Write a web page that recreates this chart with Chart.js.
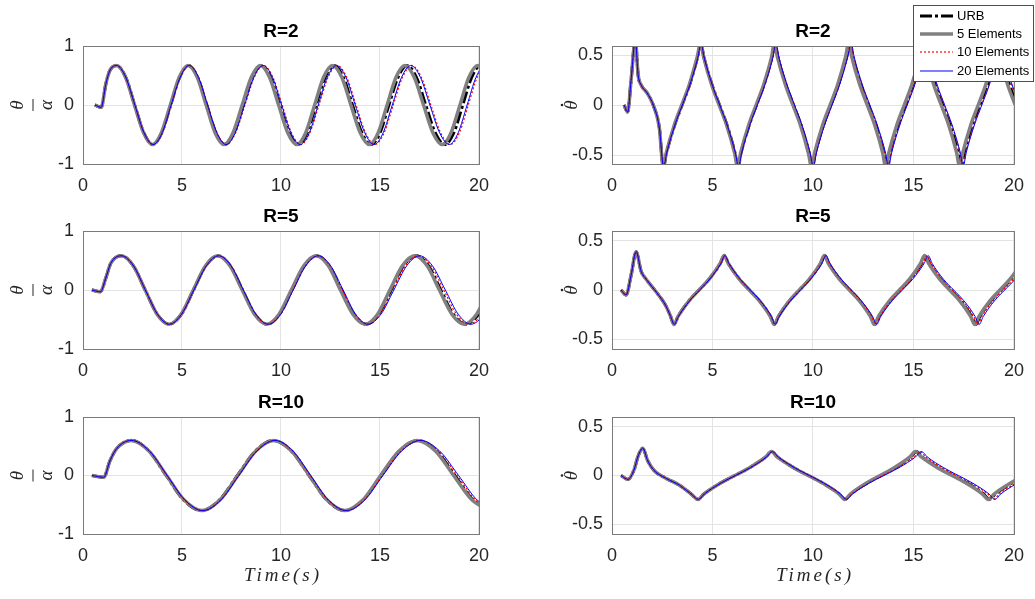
<!DOCTYPE html>
<html>
<head>
<meta charset="utf-8">
<script src="https://cdn.jsdelivr.net/npm/chart.js@4.4.1/dist/chart.umd.min.js"></script>
<style>
  body { margin: 0; background: #fff; }
  #wrap { position: relative; width: 1035px; height: 599px; overflow: hidden; background: #fff; }
  #wrap canvas { position: absolute; }
</style>
</head>
<body>
<div id="wrap"></div>
<script>
// Tick labels
const timeTicks = [0, 5, 10, 15, 20];
const angleTicks = [-1, 0, 1];
const rateTicks = [-0.5, 0, 0.5];
const seriesNames = ["URB", "5 Elements", "10 Elements", "20 Elements"];

// ---- R=2, theta/alpha ----
const startA_t = [0.6, 0.92, 1.15, 1.35, 1.7];
const startA_v = [0, -0.04, 0.35, 0.58, 0.67];
const cycleA_v = [0.47, 0, -0.47, -0.67, -0.47, 0, 0.47, 0.67, 0.47, 0, -0.47, -0.67, -0.47, 0, 0.47, 0.67,
  0.47, 0, -0.47, -0.67, -0.47, 0, 0.47, 0.67, 0.47, 0, -0.47, -0.67, -0.47, 0, 0.47, 0.67,
  0.47, 0, -0.47, -0.67, -0.47, 0, 0.47, 0.67, 0.47, 0];
const urbA = [2.16, 2.61, 3.07, 3.52, 3.98, 4.43, 4.88, 5.33, 5.79, 6.25, 6.71, 7.16, 7.62, 8.08, 8.54, 9.0,
  9.47, 9.93, 10.4, 10.86, 11.32, 11.77, 12.23, 12.68, 13.15, 13.61, 14.08, 14.55, 15.0, 15.45, 15.91, 16.36,
  16.84, 17.31, 17.79, 18.27, 18.73, 19.18, 19.63, 20.08, 20.54, 21.0];
const el5A = [2.15, 2.6, 3.06, 3.51, 3.96, 4.41, 4.86, 5.31, 5.77, 6.22, 6.67, 7.12, 7.58, 8.04, 8.5, 8.96,
  9.42, 9.88, 10.34, 10.8, 11.25, 11.7, 12.15, 12.6, 13.07, 13.53, 14.0, 14.46, 14.91, 15.36, 15.81, 16.26,
  16.73, 17.2, 17.67, 18.14, 18.59, 19.04, 19.49, 19.94, 20.42, 20.9];
const el10A = [2.16, 2.62, 3.09, 3.55, 4.01, 4.46, 4.92, 5.37, 5.84, 6.3, 6.77, 7.24, 7.71, 8.18, 8.65, 9.12,
  9.59, 10.06, 10.53, 11.0, 11.46, 11.92, 12.38, 12.84, 13.32, 13.79, 14.27, 14.74, 15.21, 15.67, 16.14, 16.6,
  17.09, 17.57, 18.06, 18.55, 19.01, 19.46, 19.91, 20.36, 20.83, 21.3];
const el20A = [2.16, 2.62, 3.08, 3.54, 4.0, 4.45, 4.91, 5.36, 5.83, 6.29, 6.76, 7.22, 7.69, 8.16, 8.63, 9.1,
  9.57, 10.03, 10.5, 10.97, 11.43, 11.88, 12.34, 12.8, 13.28, 13.75, 14.23, 14.7, 15.16, 15.62, 16.09, 16.55,
  17.04, 17.52, 18.01, 18.5, 18.95, 19.4, 19.85, 20.3, 20.78, 21.25];

// ---- R=2, theta dot ----
const startB_t = [0.6, 0.78, 0.95, 1.16, 1.3, 1.45, 1.75, 2.05, 2.35];
const startB_v = [0, -0.07, 0.25, 0.65, 0.3, 0.2, 0.12, 0, -0.22];
const cycleB_v = [-0.62, -0.48, -0.2, 0, 0.2, 0.48, 0.62, 0.48, 0.2, 0, -0.2, -0.48,
  -0.62, -0.48, -0.2, 0, 0.2, 0.48, 0.62, 0.48, 0.2, 0, -0.2, -0.48,
  -0.62, -0.48, -0.2, 0, 0.2, 0.48, 0.62, 0.48, 0.2, 0, -0.2, -0.48,
  -0.62, -0.48, -0.2, 0, 0.2, 0.48, 0.62, 0.48, 0.2, 0, -0.2, -0.48,
  -0.62, -0.48, -0.2, 0, 0.2, 0.48, 0.62, 0.48, 0.2, 0, -0.2, -0.48, -0.62];
const urbB = [2.56, 2.71, 3.12, 3.49, 3.86, 4.26, 4.42, 4.57, 4.98, 5.35, 5.72, 6.12,
  6.27, 6.42, 6.83, 7.19, 7.56, 7.96, 8.1, 8.25, 8.66, 9.03, 9.4, 9.8,
  9.96, 10.11, 10.52, 10.89, 11.26, 11.66, 11.82, 11.97, 12.38, 12.75, 13.12, 13.52,
  13.67, 13.82, 14.23, 14.6, 14.97, 15.37, 15.52, 15.67, 16.08, 16.45, 16.82, 17.22,
  17.37, 17.52, 17.93, 18.3, 18.67, 19.07, 19.22, 19.37, 19.78, 20.15, 20.52, 20.92, 21.07];
const el5B = [2.55, 2.7, 3.1, 3.47, 3.84, 4.24, 4.41, 4.56, 4.96, 5.33, 5.7, 6.1,
  6.25, 6.4, 6.8, 7.17, 7.54, 7.94, 8.08, 8.23, 8.63, 9.0, 9.37, 9.77,
  9.93, 10.08, 10.48, 10.85, 11.22, 11.62, 11.78, 11.93, 12.33, 12.7, 13.07, 13.47,
  13.62, 13.77, 14.17, 14.54, 14.91, 15.31, 15.46, 15.61, 16.01, 16.38, 16.75, 17.15,
  17.3, 17.45, 17.85, 18.22, 18.59, 18.99, 19.14, 19.29, 19.69, 20.06, 20.43, 20.83, 20.98];
const el10B = [2.57, 2.72, 3.13, 3.5, 3.87, 4.28, 4.43, 4.58, 4.99, 5.36, 5.73, 6.14,
  6.3, 6.45, 6.86, 7.23, 7.6, 8.01, 8.15, 8.3, 8.71, 9.08, 9.45, 9.86,
  10.01, 10.16, 10.57, 10.94, 11.31, 11.72, 11.88, 12.03, 12.44, 12.81, 13.18, 13.59,
  13.74, 13.89, 14.3, 14.67, 15.04, 15.45, 15.6, 15.75, 16.16, 16.53, 16.9, 17.31,
  17.45, 17.6, 18.01, 18.38, 18.75, 19.16, 19.32, 19.47, 19.88, 20.25, 20.62, 21.03, 21.18];
const el20B = [2.57, 2.72, 3.13, 3.5, 3.87, 4.28, 4.43, 4.58, 4.99, 5.36, 5.73, 6.14,
  6.3, 6.45, 6.86, 7.23, 7.6, 8.01, 8.15, 8.3, 8.71, 9.08, 9.45, 9.86,
  10.02, 10.17, 10.58, 10.95, 11.32, 11.73, 11.9, 12.05, 12.46, 12.83, 13.2, 13.61,
  13.76, 13.91, 14.32, 14.69, 15.06, 15.47, 15.62, 15.77, 16.18, 16.55, 16.92, 17.33,
  17.47, 17.62, 18.03, 18.4, 18.77, 19.18, 19.35, 19.5, 19.91, 20.28, 20.65, 21.06, 21.21];

// ---- R=5, theta/alpha ----
const startC_t = [0.45, 0.88, 1.15, 1.4, 1.94];
const startC_v = [0, -0.03, 0.2, 0.45, 0.58];
const cycleC_v = [0.41, 0, -0.41, -0.58, -0.41, 0, 0.41, 0.58, 0.41, 0, -0.41, -0.58, -0.41, 0, 0.41, 0.58,
  0.41, 0, -0.41, -0.58, -0.41, 0, 0.41, 0.58, 0.41, 0, -0.41, -0.58, -0.41, 0];
const urbC = [2.54, 3.14, 3.75, 4.35, 4.97, 5.58, 6.2, 6.82, 7.44, 8.06, 8.68, 9.3, 9.93, 10.55, 11.18, 11.8,
  12.43, 13.05, 13.68, 14.3, 14.93, 15.56, 16.19, 16.82, 17.45, 18.07, 18.7, 19.33, 19.97, 20.6];
const el5C = [2.54, 3.14, 3.74, 4.34, 4.96, 5.57, 6.19, 6.8, 7.42, 8.04, 8.66, 9.28, 9.9, 10.52, 11.15, 11.77,
  12.39, 13.0, 13.63, 14.25, 14.88, 15.5, 16.13, 16.75, 17.38, 18.0, 18.63, 19.25, 19.88, 20.5];
const el10C = [2.55, 3.15, 3.76, 4.36, 4.98, 5.6, 6.23, 6.85, 7.47, 8.09, 8.72, 9.34, 9.97, 10.6, 11.23, 11.85,
  12.48, 13.1, 13.74, 14.37, 15.01, 15.65, 16.29, 16.93, 17.58, 18.22, 18.86, 19.5, 20.15, 20.8];
const el20C = [2.55, 3.15, 3.76, 4.36, 4.98, 5.6, 6.23, 6.85, 7.48, 8.1, 8.73, 9.36, 9.99, 10.62, 11.25, 11.88,
  12.51, 13.14, 13.77, 14.4, 15.05, 15.7, 16.35, 17.0, 17.65, 18.3, 18.95, 19.6, 20.25, 20.9];

// ---- R=5, theta dot ----
const startD_t = [0.45, 0.7, 0.95, 1.2, 1.45, 1.7, 2.2, 2.65, 2.9];
const startD_v = [0, -0.05, 0.15, 0.39, 0.19, 0.11, -0.02, -0.15, -0.26];
const cycleD_v = [-0.35, -0.27, -0.11, 0, 0.11, 0.27, 0.35, 0.27, 0.11, 0, -0.11, -0.27,
  -0.35, -0.27, -0.11, 0, 0.11, 0.27, 0.35, 0.27, 0.11, 0, -0.11, -0.27,
  -0.35, -0.27, -0.11, 0, 0.11, 0.27, 0.35, 0.27, 0.11, 0, -0.11, -0.27,
  -0.35, -0.27, -0.11, 0, 0.11, 0.27, 0.35];
const urbD = [3.08, 3.28, 3.83, 4.33, 4.83, 5.39, 5.59, 5.79, 6.34, 6.84, 7.34, 7.89,
  8.08, 8.28, 8.83, 9.33, 9.83, 10.38, 10.58, 10.78, 11.33, 11.83, 12.33, 12.88,
  13.08, 13.28, 13.84, 14.34, 14.84, 15.4, 15.6, 15.8, 16.35, 16.85, 17.35, 17.9,
  18.1, 18.3, 18.85, 19.35, 19.85, 20.4, 20.6];
const el5D = [3.08, 3.28, 3.83, 4.33, 4.83, 5.38, 5.58, 5.78, 6.33, 6.83, 7.33, 7.88,
  8.07, 8.27, 8.82, 9.32, 9.82, 10.37, 10.56, 10.76, 11.31, 11.81, 12.31, 12.86,
  13.05, 13.25, 13.8, 14.3, 14.8, 15.35, 15.55, 15.75, 16.3, 16.8, 17.3, 17.85,
  18.05, 18.25, 18.8, 19.3, 19.8, 20.35, 20.55];
const el10D = [3.1, 3.3, 3.86, 4.36, 4.86, 5.41, 5.61, 5.81, 6.36, 6.86, 7.36, 7.91,
  8.1, 8.3, 8.86, 9.36, 9.86, 10.42, 10.62, 10.82, 11.38, 11.88, 12.38, 12.93,
  13.13, 13.33, 13.89, 14.4, 14.91, 15.47, 15.67, 15.87, 16.43, 16.94, 17.45, 18.0,
  18.2, 18.4, 18.96, 19.47, 19.98, 20.54, 20.74];
const el20D = [3.1, 3.3, 3.86, 4.36, 4.86, 5.42, 5.62, 5.82, 6.38, 6.88, 7.38, 7.94,
  8.12, 8.32, 8.88, 9.38, 9.88, 10.45, 10.65, 10.85, 11.41, 11.91, 12.41, 12.97,
  13.17, 13.37, 13.94, 14.45, 14.96, 15.53, 15.73, 15.93, 16.49, 17.0, 17.51, 18.07,
  18.27, 18.47, 19.03, 19.54, 20.05, 20.6, 20.8];

// ---- R=10, theta/alpha ----
const startE_t = [0.45, 1.05, 1.36, 1.7, 2.44];
const startE_v = [0, -0.03, 0.25, 0.46, 0.6];
const cycleE_v = [0.42, 0, -0.42, -0.6, -0.42, 0, 0.42, 0.6, 0.42, 0, -0.42, -0.6, -0.42, 0, 0.42, 0.6,
  0.42, 0, -0.42, -0.6];
const urbE = [3.32, 4.2, 5.09, 5.98, 6.89, 7.8, 8.71, 9.62, 10.52, 11.42, 12.32, 13.22, 14.14, 15.05, 15.99, 16.92,
  17.85, 18.78, 19.7, 20.62];
const el5E = [3.33, 4.22, 5.11, 6.0, 6.91, 7.82, 8.73, 9.63, 10.53, 11.43, 12.33, 13.22, 14.13, 15.03, 15.96, 16.88,
  17.8, 18.72, 19.65, 20.58];
const el10E = [3.34, 4.24, 5.14, 6.04, 6.95, 7.86, 8.77, 9.68, 10.58, 11.48, 12.38, 13.28, 14.2, 15.12, 16.06, 17.0,
  17.95, 18.9, 19.83, 20.75];
const el20E = [3.35, 4.25, 5.15, 6.05, 6.96, 7.87, 8.79, 9.7, 10.6, 11.5, 12.4, 13.3, 14.23, 15.15, 16.1, 17.05,
  18.01, 18.97, 19.91, 20.85];

// ---- R=10, theta dot ----
const startF_t = [0.45, 0.8, 1.1, 1.3, 1.53, 1.78, 2.1, 2.7, 3.36, 3.94];
const startF_v = [0, -0.04, 0.06, 0.2, 0.28, 0.15, 0.05, -0.03, -0.1, -0.19];
const cycleF_v = [-0.245, -0.19, -0.08, 0, 0.08, 0.19, 0.245, 0.19, 0.08, 0, -0.08, -0.19,
  -0.245, -0.19, -0.08, 0, 0.08, 0.19, 0.245, 0.19, 0.08, 0, -0.08, -0.19, -0.245, -0.19, -0.08, 0];
const urbF = [4.28, 4.57, 5.38, 6.11, 6.84, 7.65, 7.94, 8.23, 9.04, 9.77, 10.5, 11.31,
  11.6, 11.88, 12.67, 13.38, 14.09, 14.87, 15.15, 15.44, 16.24, 16.97, 17.7, 18.49, 18.78, 19.07, 19.87, 20.59];
const el5F = [4.28, 4.57, 5.38, 6.11, 6.84, 7.65, 7.93, 8.22, 9.03, 9.76, 10.49, 11.3,
  11.58, 11.86, 12.64, 13.34, 14.04, 14.82, 15.1, 15.39, 16.19, 16.91, 17.63, 18.43, 18.72, 19.01, 19.81, 20.53];
const el10F = [4.3, 4.59, 5.4, 6.14, 6.88, 7.68, 7.97, 8.26, 9.07, 9.81, 10.55, 11.35,
  11.64, 11.93, 12.75, 13.48, 14.22, 15.03, 15.32, 15.61, 16.42, 17.15, 17.88, 18.69, 18.98, 19.27, 20.08, 20.81];
const el20F = [4.3, 4.59, 5.4, 6.14, 6.88, 7.69, 7.98, 8.27, 9.08, 9.82, 10.56, 11.37,
  11.66, 11.96, 12.78, 13.53, 14.28, 15.1, 15.4, 15.69, 16.5, 17.23, 17.96, 18.76, 19.05, 19.34, 20.15, 20.88];

// line looks, in the order of seriesNames
const looks = [
  { color: "#000000", width: 3, dash: [12, 3, 3, 3], order: 4 },
  { color: "#808080", width: 3.5, dash: [], order: 3 },
  { color: "#ff0000", width: 1.2, dash: [2, 2], order: 2 },
  { color: "#0000ff", width: 1, dash: [], order: 1 },
];

const wrap = document.getElementById("wrap");

function toPoints(startT, startV, times, vals) {
  const t = startT.concat(times);
  const v = startV.concat(vals);
  return t.map((x, i) => ({ x: x, y: v[i] }));
}

function drawTheta(ctx, x, y, withDot) {
  ctx.save();
  ctx.translate(x, y);
  ctx.rotate(-Math.PI / 2);
  ctx.fillStyle = "#262626";
  ctx.textAlign = "center";
  ctx.textBaseline = "middle";
  ctx.font = "italic 19px 'Liberation Serif'";
  if (withDot) {
    ctx.fillText("\u03b8", 0, 0);
    ctx.beginPath();
    ctx.arc(0, -10, 1.3, 0, Math.PI * 2);
    ctx.fill();
  } else {
    ctx.fillText("\u03b8", 0, -15);
    ctx.fillRect(-6, -0.5, 12, 1);
    ctx.fillText("\u03b1", 0, 14);
  }
  ctx.restore();
}

function drawLegend(ctx, ox, oy) {
  ctx.save();
  const bx = 913 - ox, by = 5 - oy;
  ctx.fillStyle = "#fff";
  ctx.fillRect(bx, by, 120, 76);
  ctx.strokeStyle = "#4d4d4d";
  ctx.lineWidth = 1;
  ctx.strokeRect(bx + 0.5, by + 0.5, 120, 76);
  const rows = [16, 34, 52, 71];
  ctx.font = "13px 'Liberation Sans'";
  ctx.textBaseline = "middle";
  seriesNames.forEach((name, i) => {
    const y = rows[i] - oy;
    ctx.beginPath();
    ctx.strokeStyle = looks[i].color;
    ctx.lineWidth = looks[i].width;
    ctx.setLineDash(looks[i].dash);
    ctx.moveTo(920 - ox, y);
    ctx.lineTo(953 - ox, y);
    ctx.stroke();
    ctx.setLineDash([]);
    ctx.fillStyle = "#000";
    ctx.fillText(name, 957 - ox, y + 0.5);
  });
  ctx.restore();
}

const decor = {
  id: "decor",
  afterDatasetsDraw(chart, args, opts) {
    const a = chart.chartArea;
    const ctx = chart.ctx;
    ctx.save();
    ctx.strokeStyle = "#7a7a7a";
    ctx.lineWidth = 1;
    ctx.strokeRect(Math.round(a.left) + 0.5, Math.round(a.top) + 0.5,
      Math.round(a.right - a.left), Math.round(a.bottom - a.top));
    ctx.fillStyle = "#000";
    ctx.font = "bold 19px 'Liberation Sans'";
    ctx.textAlign = "center";
    ctx.textBaseline = "middle";
    ctx.fillText(opts.title, (a.left + a.right) / 2, a.top - 14);
    const midY = (a.top + a.bottom) / 2;
    drawTheta(ctx, opts.labelX, midY, opts.rate);
    if (opts.timeLabel) {
      ctx.fillStyle = "#262626";
      ctx.font = "italic 19px 'Liberation Serif'";
      ctx.textBaseline = "alphabetic";
      ctx.letterSpacing = "3px";
      ctx.fillText("Time(s)", (a.left + a.right) / 2 + 2, a.bottom + 47);
      ctx.letterSpacing = "0px";
    }
    ctx.restore();
  },
  afterDraw(chart, args, opts) {
    if (opts.legend) drawLegend(chart.ctx, opts.ox, opts.oy);
  },
};

function makePanel(p) {
  const canvas = document.createElement("canvas");
  canvas.width = p.w;
  canvas.height = p.h;
  canvas.style.left = p.left + "px";
  canvas.style.top = p.top + "px";
  wrap.appendChild(canvas);

  const datasets = p.series.map((times, i) => ({
    label: seriesNames[i],
    data: toPoints(p.startT, p.startV, times, p.vals),
    borderColor: looks[i].color,
    borderWidth: looks[i].width,
    borderDash: looks[i].dash,
    order: looks[i].order,
    fill: false,
    cubicInterpolationMode: "monotone",
    pointRadius: 0,
  }));

  const tickFont = { family: "'Liberation Sans'", size: 18 };
  new Chart(canvas, {
    type: "line",
    data: { datasets: datasets },
    plugins: [decor],
    options: {
      responsive: false,
      animation: false,
      layout: { autoPadding: false, padding: { top: p.padTop, right: p.padRight, left: 0, bottom: 0 } },
      plugins: {
        legend: { display: false },
        tooltip: { enabled: false },
        decor: { title: p.title, rate: p.rate, labelX: p.labelX, timeLabel: p.timeLabel, legend: p.legend, ox: p.left, oy: p.top },
      },
      scales: {
        x: {
          type: "linear",
          min: 0,
          max: 20,
          afterBuildTicks: (s) => { s.ticks = timeTicks.map((v) => ({ value: v })); },
          afterFit: (s) => { s.height = p.xHeight; },
          grid: { color: "#e3e3e3", drawTicks: false },
          border: { display: false },
          ticks: { padding: 11, color: "#262626", font: tickFont, maxRotation: 0, autoSkip: false },
        },
        y: {
          type: "linear",
          min: p.yMin,
          max: p.yMax,
          afterBuildTicks: (s) => { s.ticks = p.yTicks.map((v) => ({ value: v })); },
          afterFit: (s) => { s.width = p.yWidth; },
          grid: { color: "#e3e3e3", drawTicks: false },
          border: { display: false },
          ticks: { padding: 9, color: "#262626", font: tickFont, autoSkip: false },
        },
      },
    },
  });
}

const leftCol = { left: 0, w: 500, yWidth: 83, padRight: 16, yMin: -1, yMax: 1, yTicks: angleTicks, rate: false, labelX: 33 };
const rightCol = { left: 540, w: 495, yWidth: 72, padRight: 21, yMin: -0.6, yMax: 0.6, yTicks: rateTicks, rate: true, labelX: 32 };
const row1 = { top: 0, h: 198, padTop: 46, xHeight: 34 };
const row2 = { top: 185, h: 198, padTop: 46, xHeight: 34 };
const row3 = { top: 371, h: 223, padTop: 46, xHeight: 60, timeLabel: true };

makePanel(Object.assign({}, leftCol, row1, { title: "R=2", startT: startA_t, startV: startA_v, vals: cycleA_v, series: [urbA, el5A, el10A, el20A] }));
makePanel(Object.assign({}, rightCol, row1, { title: "R=2", yMin: -0.59, yMax: 0.59, legend: true, startT: startB_t, startV: startB_v, vals: cycleB_v, series: [urbB, el5B, el10B, el20B] }));
makePanel(Object.assign({}, leftCol, row2, { title: "R=5", startT: startC_t, startV: startC_v, vals: cycleC_v, series: [urbC, el5C, el10C, el20C] }));
makePanel(Object.assign({}, rightCol, row2, { title: "R=5", startT: startD_t, startV: startD_v, vals: cycleD_v, series: [urbD, el5D, el10D, el20D] }));
makePanel(Object.assign({}, leftCol, row3, { title: "R=10", startT: startE_t, startV: startE_v, vals: cycleE_v, series: [urbE, el5E, el10E, el20E] }));
makePanel(Object.assign({}, rightCol, row3, { title: "R=10", startT: startF_t, startV: startF_v, vals: cycleF_v, series: [urbF, el5F, el10F, el20F] }));
</script>
</body>
</html>
